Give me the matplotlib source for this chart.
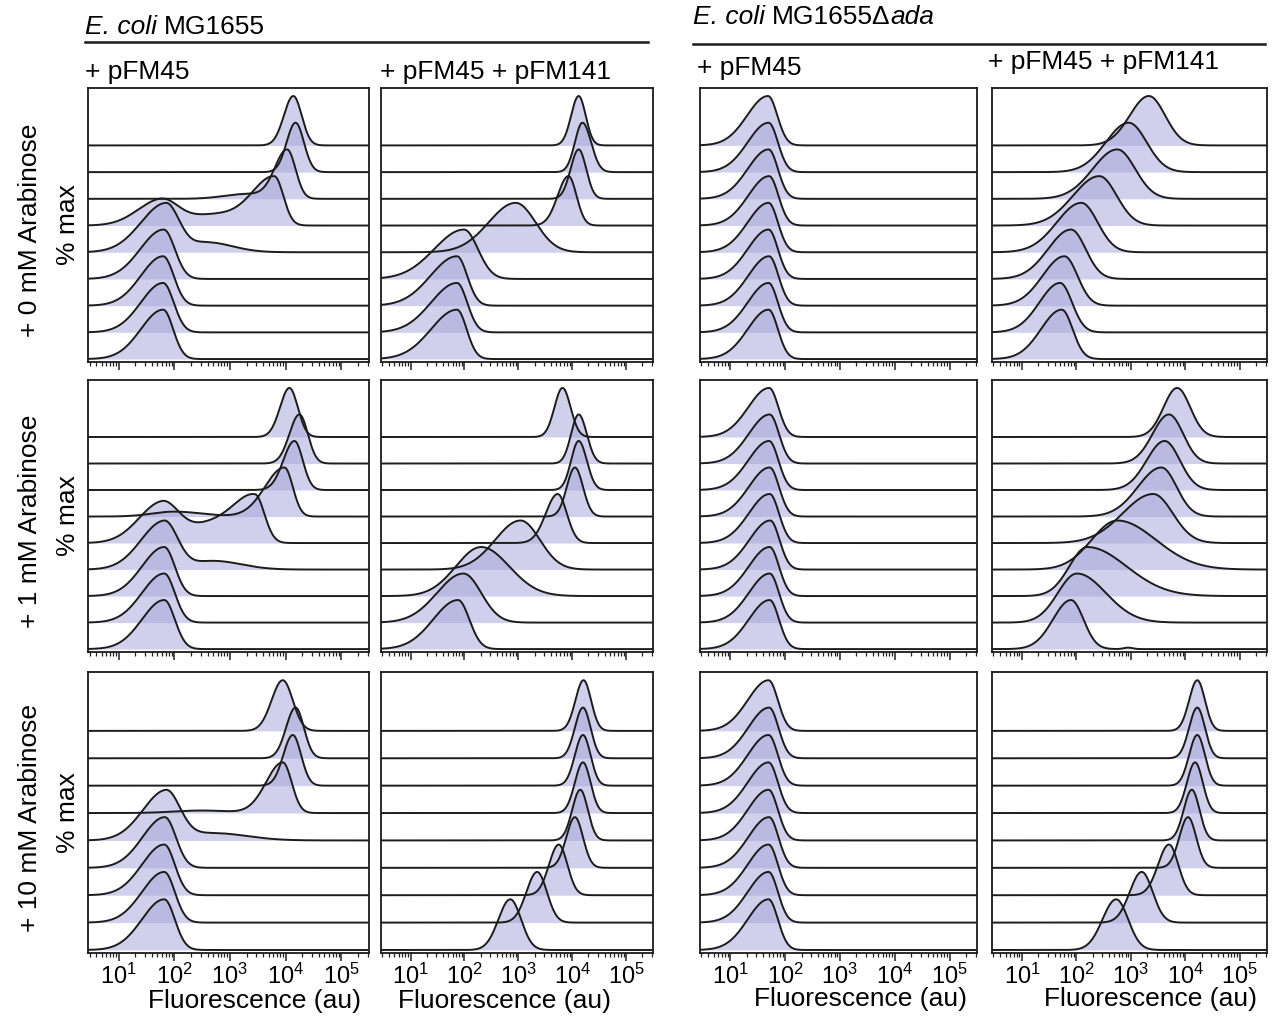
import numpy as np
import matplotlib
matplotlib.use("Agg")
import matplotlib.pyplot as plt
from matplotlib.lines import Line2D
from matplotlib.ticker import FixedLocator, FixedFormatter, NullFormatter

plt.rcParams['font.family'] = ['Liberation Sans', 'DejaVu Sans']
plt.rcParams['mathtext.fontset'] = 'custom'
plt.rcParams['mathtext.rm'] = 'Liberation Sans'
plt.rcParams['mathtext.it'] = 'Liberation Sans:italic'

# ---------------- labels ----------------
# strain headers as (text, italic) pieces
strain_titles = [
    [('E. coli ', True), ('MG1655', False)],
    [('E. coli ', True), ('MG1655Δ', False), ('ada', True)],
]
plasmid_titles = ['+ pFM45', '+ pFM45 + pFM141', '+ pFM45', '+ pFM45 + pFM141']
arabinose_labels = ['+ 0 mM Arabinose', '+ 1 mM Arabinose', '+ 10 mM Arabinose']
y_label = '% max'
x_label = 'Fluorescence (au)'
tick_exponents = [1, 2, 3, 4, 5]
log_range = (0.45, 5.5)

# ---------------- data ----------------
# Each trace (bottom -> top) is a list of populations:
# (peak position log10(au), spread left of peak, spread right of peak, relative height)
wt_pFM45_0mM = [
    [(1.80, 0.40, 0.18, 1.0)],
    [(1.80, 0.40, 0.19, 1.0)],
    [(1.80, 0.40, 0.19, 1.0)],
    [(1.81, 0.42, 0.20, 1.0)],
    [(1.85, 0.45, 0.24, 1.0), (2.60, 0.30, 0.45, 0.20)],
    [(1.76, 0.42, 0.30, 0.52), (2.70, 0.50, 0.50, 0.22), (3.80, 0.40, 0.16, 1.0)],
    [(4.03, 0.22, 0.15, 1.0), (3.30, 0.40, 0.40, 0.10)],
    [(4.18, 0.16, 0.15, 1.0)],
    [(4.14, 0.17, 0.15, 1.0)],
]
wt_pFM141_0mM = [
    [(1.86, 0.48, 0.18, 1.0)],
    [(1.86, 0.48, 0.19, 1.0)],
    [(1.86, 0.49, 0.19, 1.0)],
    [(1.99, 0.55, 0.26, 1.0)],
    [(2.95, 0.50, 0.37, 1.0)],
    [(3.93, 0.20, 0.15, 1.0)],
    [(4.12, 0.15, 0.14, 1.0)],
    [(4.19, 0.14, 0.16, 1.0)],
    [(4.12, 0.14, 0.13, 1.0)],
]
ada_pFM45_0mM = [
    [(1.70, 0.38, 0.17, 1.0)],
    [(1.70, 0.38, 0.17, 1.0)],
    [(1.71, 0.38, 0.17, 1.0)],
    [(1.70, 0.38, 0.17, 1.0)],
    [(1.70, 0.38, 0.17, 1.0)],
    [(1.71, 0.38, 0.17, 1.0)],
    [(1.70, 0.38, 0.17, 1.0)],
    [(1.70, 0.38, 0.17, 1.0)],
    [(1.69, 0.38, 0.17, 1.0)],
]
ada_pFM141_0mM = [
    [(1.73, 0.38, 0.20, 1.0)],
    [(1.70, 0.38, 0.22, 1.0)],
    [(1.78, 0.40, 0.24, 1.0)],
    [(1.90, 0.42, 0.27, 1.0)],
    [(2.09, 0.45, 0.30, 1.0)],
    [(2.42, 0.48, 0.32, 1.0)],
    [(2.75, 0.45, 0.33, 1.0)],
    [(2.96, 0.42, 0.33, 1.0)],
    [(3.33, 0.35, 0.30, 1.0)],
]
wt_pFM45_1mM = [
    [(1.82, 0.40, 0.19, 1.0)],
    [(1.82, 0.40, 0.19, 1.0)],
    [(1.82, 0.40, 0.19, 1.0)],
    [(1.82, 0.42, 0.24, 1.0), (2.70, 0.40, 0.50, 0.18)],
    [(1.78, 0.42, 0.30, 0.85), (2.60, 0.40, 0.40, 0.35), (3.45, 0.40, 0.17, 1.0)],
    [(3.98, 0.35, 0.15, 1.0), (2.00, 0.40, 0.50, 0.10)],
    [(4.16, 0.20, 0.15, 1.0)],
    [(4.25, 0.18, 0.15, 1.0)],
    [(4.07, 0.17, 0.15, 1.0)],
]
wt_pFM141_1mM = [
    [(1.88, 0.46, 0.21, 1.0)],
    [(1.98, 0.49, 0.33, 1.0)],
    [(2.31, 0.47, 0.52, 1.0)],
    [(3.04, 0.47, 0.36, 1.0)],
    [(3.73, 0.22, 0.17, 1.0)],
    [(4.05, 0.15, 0.15, 1.0)],
    [(4.12, 0.14, 0.15, 1.0)],
    [(4.12, 0.14, 0.15, 1.0)],
    [(3.82, 0.15, 0.15, 1.0)],
]
ada_pFM45_1mM = [
    [(1.72, 0.38, 0.17, 1.0)],
    [(1.72, 0.38, 0.17, 1.0)],
    [(1.72, 0.38, 0.17, 1.0)],
    [(1.73, 0.38, 0.17, 1.0)],
    [(1.72, 0.38, 0.17, 1.0)],
    [(1.72, 0.38, 0.17, 1.0)],
    [(1.71, 0.38, 0.17, 1.0)],
    [(1.72, 0.38, 0.17, 1.0)],
    [(1.71, 0.38, 0.17, 1.0)],
]
ada_pFM141_1mM = [
    [(1.90, 0.33, 0.23, 1.0), (2.95, 0.08, 0.08, 0.03)],
    [(2.01, 0.35, 0.53, 1.0)],
    [(2.20, 0.33, 0.72, 1.0)],
    [(2.75, 0.47, 0.71, 1.0)],
    [(3.41, 0.56, 0.36, 1.0)],
    [(3.56, 0.43, 0.28, 1.0)],
    [(3.62, 0.33, 0.28, 1.0)],
    [(3.70, 0.30, 0.26, 1.0)],
    [(3.85, 0.25, 0.24, 1.0)],
]
wt_pFM45_10mM = [
    [(1.82, 0.40, 0.19, 1.0)],
    [(1.82, 0.40, 0.19, 1.0)],
    [(1.82, 0.40, 0.19, 1.0)],
    [(1.83, 0.40, 0.20, 1.0)],
    [(1.85, 0.42, 0.25, 1.0), (2.70, 0.50, 0.60, 0.15)],
    [(3.95, 0.30, 0.16, 1.0), (2.50, 0.50, 0.50, 0.05)],
    [(4.13, 0.17, 0.15, 1.0)],
    [(4.18, 0.17, 0.15, 1.0)],
    [(3.95, 0.20, 0.18, 1.0)],
]
wt_pFM141_10mM = [
    [(2.85, 0.22, 0.20, 1.0)],
    [(3.35, 0.20, 0.18, 1.0)],
    [(3.75, 0.18, 0.16, 1.0)],
    [(4.05, 0.16, 0.15, 1.0)],
    [(4.15, 0.15, 0.14, 1.0)],
    [(4.20, 0.15, 0.14, 1.0)],
    [(4.20, 0.15, 0.14, 1.0)],
    [(4.20, 0.15, 0.14, 1.0)],
    [(4.21, 0.15, 0.14, 1.0)],
]
ada_pFM45_10mM = [
    [(1.70, 0.38, 0.17, 1.0)],
    [(1.70, 0.38, 0.17, 1.0)],
    [(1.70, 0.38, 0.17, 1.0)],
    [(1.71, 0.38, 0.17, 1.0)],
    [(1.70, 0.38, 0.17, 1.0)],
    [(1.70, 0.38, 0.17, 1.0)],
    [(1.70, 0.38, 0.17, 1.0)],
    [(1.71, 0.38, 0.17, 1.0)],
    [(1.70, 0.38, 0.17, 1.0)],
]
ada_pFM141_10mM = [
    [(2.73, 0.25, 0.22, 1.0)],
    [(3.20, 0.22, 0.20, 1.0)],
    [(3.70, 0.20, 0.17, 1.0)],
    [(4.05, 0.16, 0.15, 1.0)],
    [(4.12, 0.15, 0.14, 1.0)],
    [(4.18, 0.15, 0.14, 1.0)],
    [(4.22, 0.15, 0.14, 1.0)],
    [(4.22, 0.15, 0.14, 1.0)],
    [(4.22, 0.15, 0.14, 1.0)],
]

panels = [
    [wt_pFM45_0mM, wt_pFM141_0mM, ada_pFM45_0mM, ada_pFM141_0mM],
    [wt_pFM45_1mM, wt_pFM141_1mM, ada_pFM45_1mM, ada_pFM141_1mM],
    [wt_pFM45_10mM, wt_pFM141_10mM, ada_pFM45_10mM, ada_pFM141_10mM],
]

# ---------------- layout (pixels) ----------------
W, H = 1272, 1018
col_x = [(88, 369), (381, 653), (700, 977), (992, 1267)]
row_y = [(88, 362), (380, 652), (672, 953)]
FILL = '#a3a3da'
LINE = '#1c1c1c'
PEAK = 1.85

fig = plt.figure(figsize=(W / 100, H / 100), dpi=100)
fig.patch.set_facecolor('white')


def fx(px):
    return px / W


def fy(py):
    return 1 - py / H


logx = np.linspace(log_range[0], log_range[1], 700)
xv = 10 ** logx


def profile(pops):
    y = np.zeros_like(logx)
    for c, sl, sr, h in pops:
        s = np.where(logx < c, sl, sr)
        y += h * np.exp(-0.5 * ((logx - c) / s) ** 2)
    return y / y.max() * PEAK


minor = [m * 10 ** e for e in range(0, 6) for m in range(2, 10)]

for r in range(3):
    for c in range(4):
        x0, x1 = col_x[c]
        y0, y1 = row_y[r]
        ax = fig.add_axes([fx(x0), fy(y1), fx(x1 - x0), (y1 - y0) / H])
        traces = panels[r][c]
        n = len(traces)
        for k in range(n - 1, -1, -1):
            prof = profile(traces[k])
            ax.fill_between(xv, k, k + prof, color=FILL, alpha=0.5, lw=0, zorder=2)
            ax.plot(xv, k + prof, color=LINE, lw=1.4, zorder=3)
        ax.set_xscale('log')
        ax.set_xlim(10 ** log_range[0], 10 ** log_range[1])
        ax.set_ylim(-0.11, 10.15)
        ax.set_yticks([])
        ax.xaxis.set_major_locator(FixedLocator([10.0 ** e for e in tick_exponents]))
        ax.xaxis.set_minor_locator(FixedLocator(minor))
        ax.xaxis.set_minor_formatter(NullFormatter())
        if r == 2:
            ax.xaxis.set_major_formatter(FixedFormatter(
                [r'$\mathregular{10^{%d}}$' % e for e in tick_exponents]))
        else:
            ax.xaxis.set_major_formatter(NullFormatter())
        ax.tick_params(axis='x', which='major', direction='out', length=6, width=1.1,
                       labelsize=17, pad=2, color='#222222')
        ax.tick_params(axis='x', which='minor', direction='out', length=3, width=0.9,
                       color='#222222')
        for sp in ax.spines.values():
            sp.set_linewidth(1.3)
            sp.set_color('#1a1a1a')

# column titles
title_pos = [(85, 72), (380, 72), (697, 68), (988, 62)]
for t, (px, py) in zip(plasmid_titles, title_pos):
    fig.text(fx(px), fy(py), t, fontsize=19, ha='left', va='center')

# strain headers (pieces chained left to right)
fig.canvas.draw()
renderer = fig.canvas.get_renderer()
header_pos = [(85, 27), (693, 17)]
for pieces, (px, py) in zip(strain_titles, header_pos):
    cur = px
    for txt, ital in pieces:
        t = fig.text(fx(cur), fy(py), txt, fontsize=19, ha='left', va='center',
                     style='italic' if ital else 'normal')
        bb = t.get_window_extent(renderer=renderer)
        cur = cur + bb.width
fig.add_artist(Line2D([fx(85), fx(648)], [fy(42), fy(42)], lw=1.8, color='#1a1a1a'))
fig.add_artist(Line2D([fx(693), fx(1265)], [fy(44), fy(44)], lw=1.8, color='#1a1a1a'))

# row labels
for r, lab in enumerate(arabinose_labels):
    yc = (row_y[r][0] + row_y[r][1]) / 2 + 5
    fig.text(fx(30), fy(yc), lab, fontsize=19, rotation=90, ha='center', va='center')
    fig.text(fx(68), fy(yc - 5), y_label, fontsize=19, rotation=90, ha='center', va='center')

# x axis labels
xl_pos = [(255, 1001), (505, 1001), (860, 999), (1150, 999)]
for px, py in xl_pos:
    fig.text(fx(px), fy(py), x_label, fontsize=19, ha='center', va='center')

fig.savefig('out.png', dpi=100, facecolor='white')
